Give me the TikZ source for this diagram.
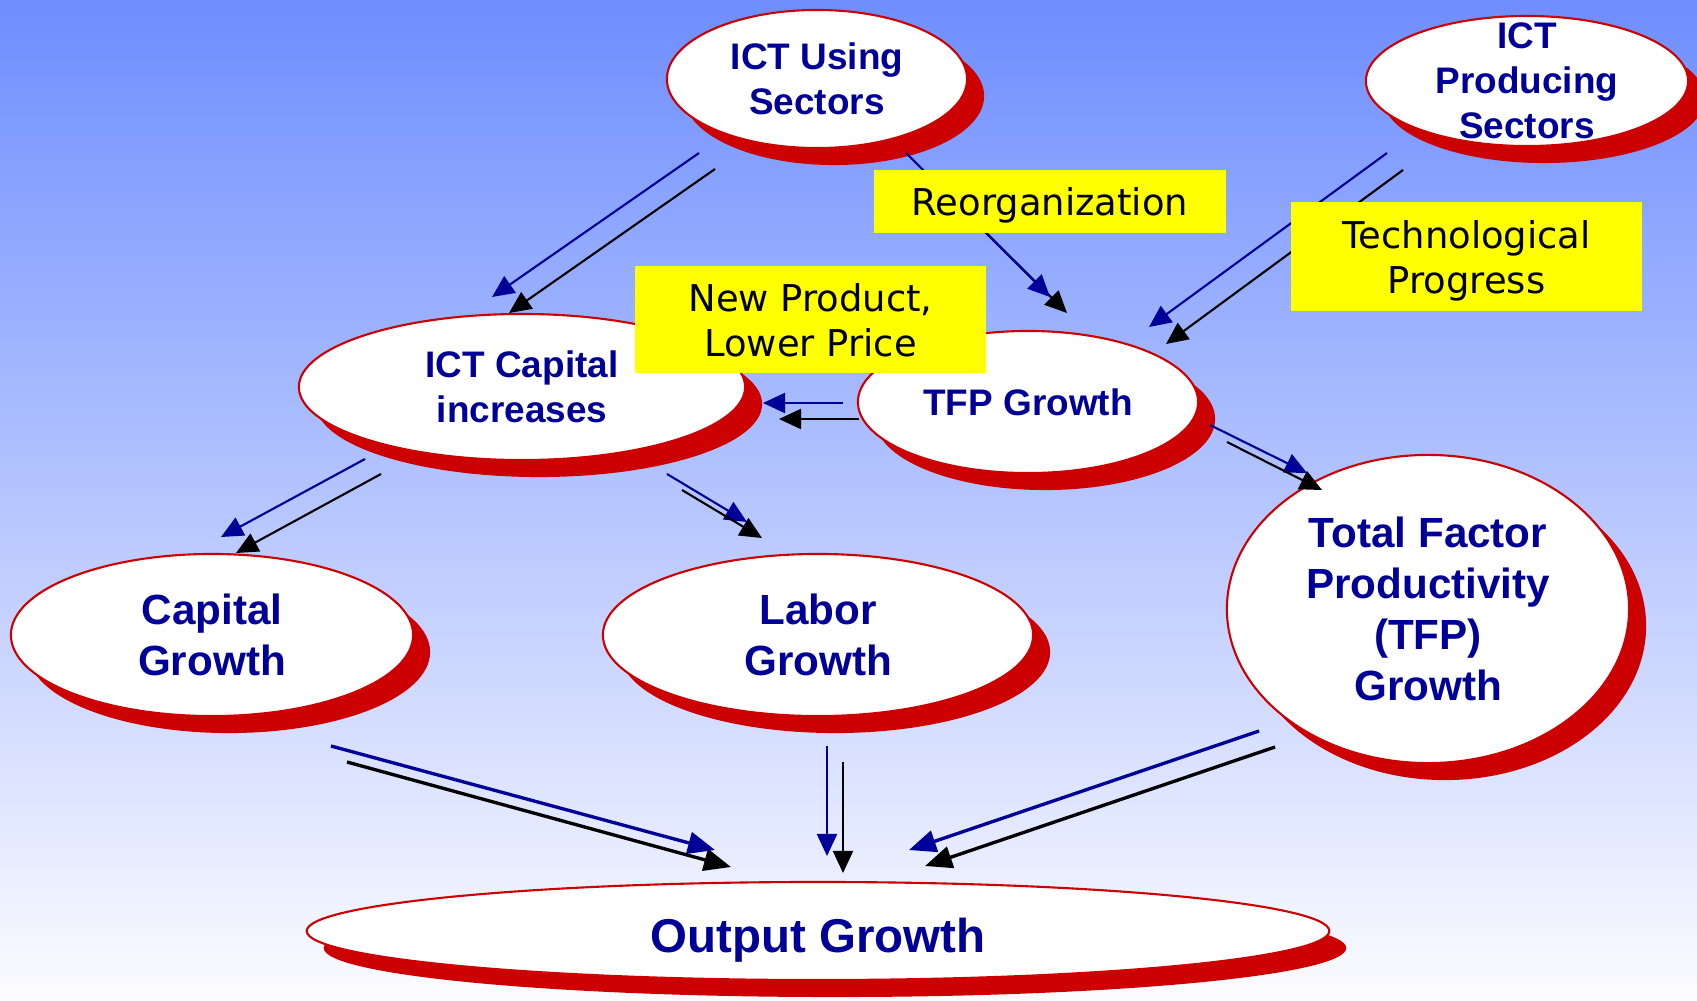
\documentclass[tikz,border=0pt]{standalone}
\usepackage{fontspec}
\setmainfont{Liberation Sans}
\newfontfamily\labelfont{DejaVu Sans}
\usetikzlibrary{shapes.geometric,shadows,arrows.meta}
\definecolor{navy}{RGB}{0,0,153}
\definecolor{bubred}{RGB}{204,0,0}
\definecolor{bgtop}{RGB}{110,142,255}
\definecolor{bgmid}{RGB}{192,204,255}
\definecolor{bgbot}{RGB}{252,252,255}
\definecolor{lblyellow}{RGB}{255,255,0}
\tikzset{
  bub/.style={ellipse, draw=bubred, line width=0.6pt, fill=white, inner sep=0pt,
    text=navy, align=center, text depth=0pt, font=\bfseries\fontsize{10.5pt}{12.8pt}\selectfont,
    general shadow={fill=bubred, shadow xshift=0.17cm, shadow yshift=-0.17cm}},
  bigbub/.style={bub, font=\bfseries\fontsize{12pt}{14.5pt}\selectfont},
  lblbox/.style={rectangle, fill=lblyellow, inner sep=0pt, align=center, text=black,
    text depth=0pt, font=\labelfont\fontsize{10.5pt}{12.8pt}\selectfont},
  bluearr/.style={draw=navy, line width=0.6pt, -{Triangle[length=0.22cm,width=0.2cm]}},
  blackarr/.style={draw=black, line width=0.6pt, -{Triangle[length=0.22cm,width=0.2cm]}},
  bluethick/.style={draw=navy, line width=0.95pt, -{Triangle[length=0.27cm,width=0.22cm]}},
  blackthick/.style={draw=black, line width=0.95pt, -{Triangle[length=0.27cm,width=0.22cm]}},
}
\begin{document}
\begin{tikzpicture}[x=0.01cm,y=-0.01cm]
\useasboundingbox (0,0) rectangle (1697,1000);
\shade[top color=bgtop, middle color=bgmid, bottom color=bgbot] (0,0) rectangle (1697,1000);

% ellipses
\node[bub, minimum width=3.00cm, minimum height=1.38cm] (ictu) at (817,79) {ICT Using\\Sectors};
\node[bub, inner sep=-8pt, minimum width=3.22cm, minimum height=1.30cm] (ictp) at (1527,81) {ICT\\Producing\\Sectors};
\node[bub, minimum width=4.46cm, minimum height=1.46cm] (ictc) at (522,387) {ICT Capital\\increases};
\node[bub, minimum width=3.40cm, minimum height=1.42cm] (tfps) at (1028,402) {TFP Growth};
\node[bigbub, minimum width=4.02cm, minimum height=1.62cm] (capg) at (212,635) {Capital\\Growth};
\node[bigbub, minimum width=4.30cm, minimum height=1.62cm] (labg) at (818,635) {Labor\\Growth};
\node[bigbub, minimum width=4.02cm, minimum height=3.08cm] (tfpb) at (1428,609) {Total Factor\\Productivity\\(TFP)\\Growth};
\node[bub, minimum width=10.22cm, minimum height=0.98cm, text height=12pt, text depth=0pt,
  font=\bfseries\fontsize{13.5pt}{15pt}\selectfont] (outg) at (818,931) {Output Growth};

% arrow end points
\coordinate (a1bs) at (699,153); \coordinate (a1be) at (492,297);
\coordinate (a1ks) at (715,169); \coordinate (a1ke) at (509,313);
\coordinate (a2bs) at (906,153); \coordinate (a2be) at (1050,297);
\coordinate (a2ks) at (960,207); \coordinate (a2ke) at (1067,313);
\coordinate (a3bs) at (1387,153); \coordinate (a3be) at (1149,327);
\coordinate (a3ks) at (1403,170); \coordinate (a3ke) at (1166,344);
\coordinate (a4bs) at (843,403); \coordinate (a4be) at (763,403);
\coordinate (a4ks) at (859,419); \coordinate (a4ke) at (779,419);
\coordinate (a5bs) at (1210,425); \coordinate (a5be) at (1307,473);
\coordinate (a5ks) at (1227,442); \coordinate (a5ke) at (1322,490);
\coordinate (a6bs) at (365,459); \coordinate (a6be) at (221,537);
\coordinate (a6ks) at (381,474); \coordinate (a6ke) at (236,553);
\coordinate (a7bs) at (667,474); \coordinate (a7be) at (747,522);
\coordinate (a7ks) at (682,490); \coordinate (a7ke) at (762,538);
\coordinate (a8bs) at (331,746); \coordinate (a8be) at (715,850);
\coordinate (a8ks) at (347,762); \coordinate (a8ke) at (731,867);
\coordinate (a9bs) at (827,746); \coordinate (a9be) at (827,856);
\coordinate (a9ks) at (843,762); \coordinate (a9ke) at (843,873);
\coordinate (a10bs) at (1259,731); \coordinate (a10be) at (909,850);
\coordinate (a10ks) at (1275,747); \coordinate (a10ke) at (925,866);

% arrows
\draw[bluearr] (a1bs) -- (a1be);
\draw[blackarr] (a1ks) -- (a1ke);
\draw[blackarr] (a2ks) -- (a2ke);
\draw[bluearr] (a2bs) -- (a2be);
\draw[bluearr] (a3bs) -- (a3be);
\draw[blackarr] (a3ks) -- (a3ke);
\draw[bluearr] (a4bs) -- (a4be);
\draw[blackarr] (a4ks) -- (a4ke);
\draw[bluearr] (a5bs) -- (a5be);
\draw[blackarr] (a5ks) -- (a5ke);
\draw[bluearr] (a6bs) -- (a6be);
\draw[blackarr] (a6ks) -- (a6ke);
\draw[bluearr] (a7bs) -- (a7be);
\draw[blackarr] (a7ks) -- (a7ke);
\draw[bluethick] (a8bs) -- (a8be);
\draw[blackthick] (a8ks) -- (a8ke);
\draw[bluearr] (a9bs) -- (a9be);
\draw[blackarr] (a9ks) -- (a9ke);
\draw[bluethick] (a10bs) -- (a10be);
\draw[blackthick] (a10ks) -- (a10ke);

% labels
\node[lblbox, minimum width=3.52cm, minimum height=0.63cm] (reorg) at (1050,201.5) {Reorganization};
\node[lblbox, minimum width=3.51cm, minimum height=1.07cm] (newp) at (810.5,319.5) {New Product,\\Lower Price};
\node[lblbox, minimum width=3.51cm, minimum height=1.09cm] (tech) at (1466.5,256.5) {Technological\\Progress};
\end{tikzpicture}
\end{document}
